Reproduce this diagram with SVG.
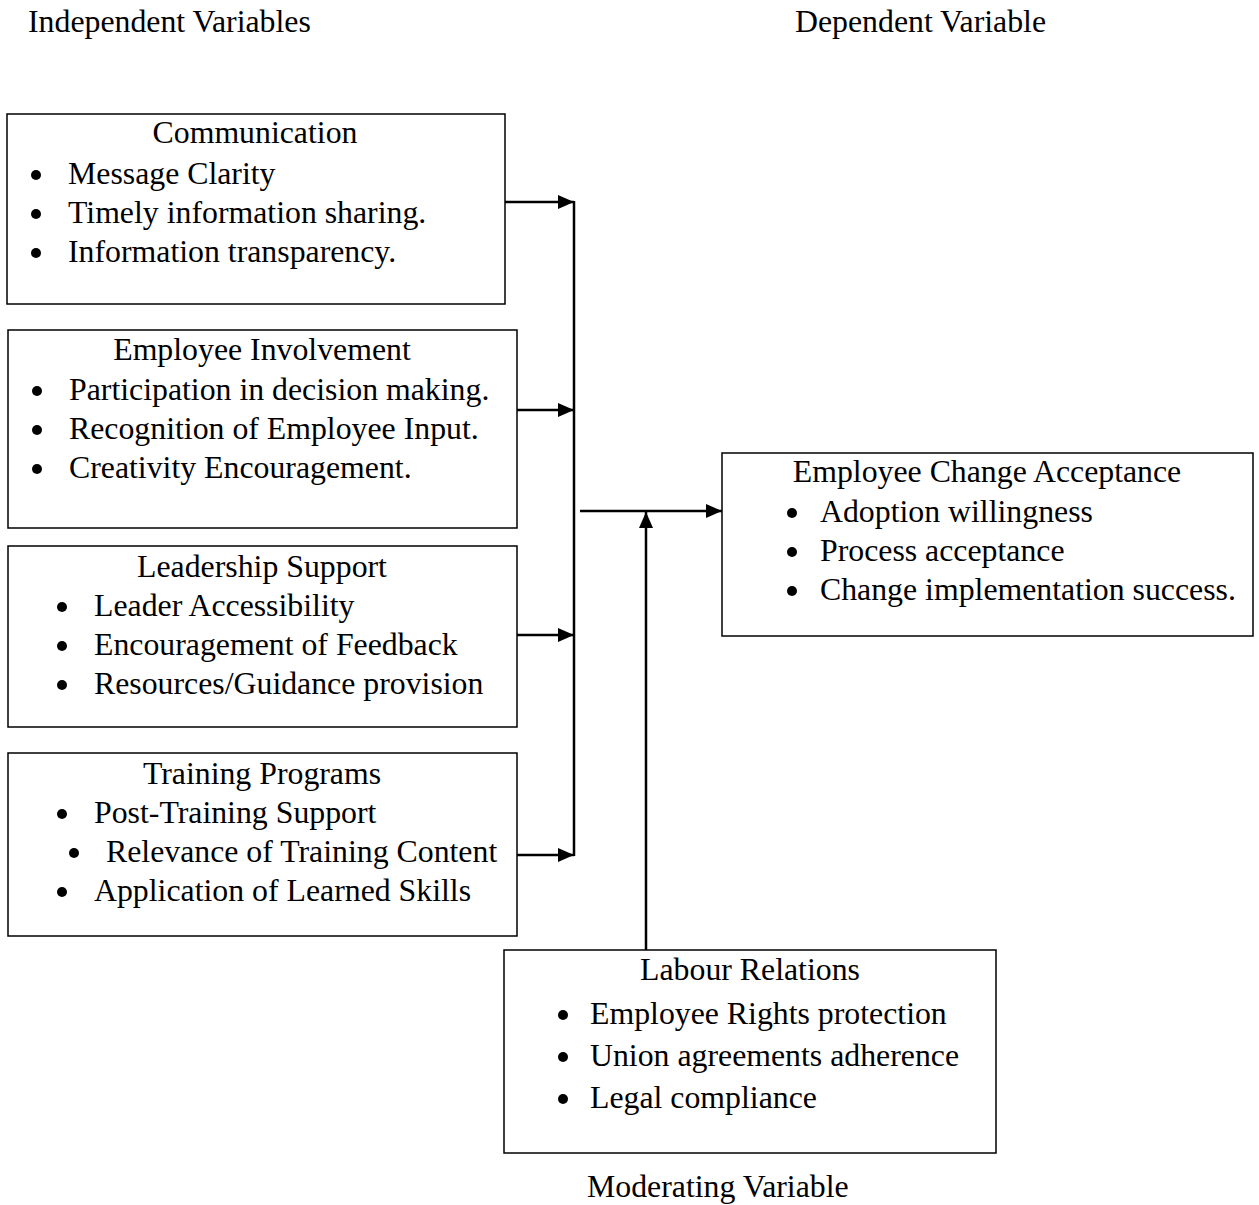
<svg xmlns="http://www.w3.org/2000/svg" width="1259" height="1205" viewBox="0 0 1259 1205">
<style>
text{font-family:"Liberation Serif","Times New Roman",serif;font-size:31.8px;fill:#000}
.t{text-anchor:middle}
.box{fill:#fff;stroke:#000;stroke-width:1.5}
.ln{stroke:#000;stroke-width:2.5;fill:none}
.b{fill:#000}
</style>
<defs>
<marker id="ah2" markerWidth="16" markerHeight="16" refX="16" refY="8" orient="auto" markerUnits="userSpaceOnUse" viewBox="0 0 16 16">
<path d="M0,1 L16,8 L0,15 Z" fill="#000"/>
</marker>
</defs>
<rect width="1259" height="1205" fill="#fff"/>
<g id="labels">
<text x="28" y="32">Independent Variables</text>
<text x="795" y="32">Dependent Variable</text>
<text x="587" y="1197">Moderating Variable</text>
</g>
<g id="communication">
<rect class="box" x="7" y="114" width="498" height="190"/>
<text class="t" x="255" y="143">Communication</text>
<circle class="b" cx="36" cy="175" r="5"/><text x="68" y="184">Message Clarity</text>
<circle class="b" cx="36" cy="214" r="5"/><text x="68" y="223">Timely information sharing.</text>
<circle class="b" cx="36" cy="253" r="5"/><text x="68" y="262">Information transparency.</text>
</g>
<g id="employee-involvement">
<rect class="box" x="8" y="330" width="509" height="198"/>
<text class="t" x="262" y="360">Employee Involvement</text>
<circle class="b" cx="37" cy="391" r="5"/><text x="69" y="400">Participation in decision making.</text>
<circle class="b" cx="37" cy="430" r="5"/><text x="69" y="439">Recognition of Employee Input.</text>
<circle class="b" cx="37" cy="469" r="5"/><text x="69" y="478">Creativity Encouragement.</text>
</g>
<g id="leadership-support">
<rect class="box" x="8" y="546" width="509" height="181"/>
<text class="t" x="262" y="577">Leadership Support</text>
<circle class="b" cx="62" cy="607" r="5"/><text x="94" y="616">Leader Accessibility</text>
<circle class="b" cx="62" cy="646" r="5"/><text x="94" y="655">Encouragement of Feedback</text>
<circle class="b" cx="62" cy="685" r="5"/><text x="94" y="694">Resources/Guidance provision</text>
</g>
<g id="training-programs">
<rect class="box" x="8" y="753" width="509" height="183"/>
<text class="t" x="262" y="784">Training Programs</text>
<circle class="b" cx="62" cy="814" r="5"/><text x="94" y="823">Post-Training Support</text>
<circle class="b" cx="74" cy="853" r="5"/><text x="106" y="862">Relevance of Training Content</text>
<circle class="b" cx="62" cy="892" r="5"/><text x="94" y="901">Application of Learned Skills</text>
</g>
<g id="employee-change-acceptance">
<rect class="box" x="722" y="453" width="531" height="183"/>
<text class="t" x="987" y="482">Employee Change Acceptance</text>
<circle class="b" cx="792" cy="513" r="5"/><text x="820" y="522">Adoption willingness</text>
<circle class="b" cx="792" cy="552" r="5"/><text x="820" y="561">Process acceptance</text>
<circle class="b" cx="792" cy="591" r="5"/><text x="820" y="600">Change implementation success.</text>
</g>
<g id="labour-relations">
<rect class="box" x="504" y="950" width="492" height="203"/>
<text class="t" x="750" y="980">Labour Relations</text>
<circle class="b" cx="563" cy="1015" r="5"/><text x="590" y="1024">Employee Rights protection</text>
<circle class="b" cx="563" cy="1057" r="5"/><text x="590" y="1066">Union agreements adherence</text>
<circle class="b" cx="563" cy="1099" r="5"/><text x="590" y="1108">Legal compliance</text>
</g>
<g id="connectors">
<line class="ln" x1="574" y1="201" x2="574" y2="856"/>
<line class="ln" x1="505" y1="202" x2="574" y2="202" marker-end="url(#ah2)"/>
<line class="ln" x1="517" y1="410" x2="574" y2="410" marker-end="url(#ah2)"/>
<line class="ln" x1="517" y1="635" x2="574" y2="635" marker-end="url(#ah2)"/>
<line class="ln" x1="517" y1="855" x2="574" y2="855" marker-end="url(#ah2)"/>
<line class="ln" x1="580" y1="511" x2="722" y2="511" marker-end="url(#ah2)"/>
<line class="ln" x1="646" y1="950" x2="646" y2="512" marker-end="url(#ah2)"/>
</g>
</svg>
